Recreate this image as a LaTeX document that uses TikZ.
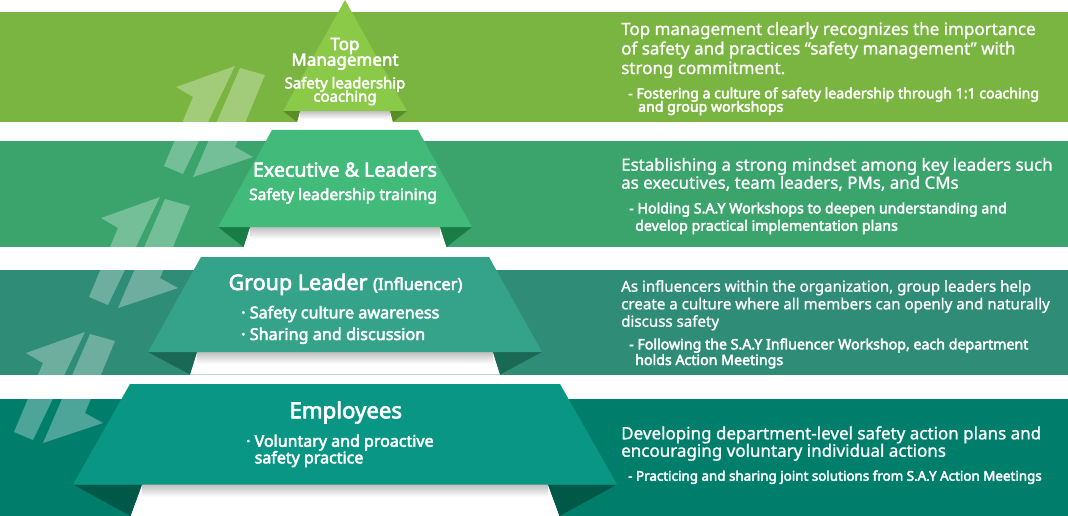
\documentclass[tikz,border=0pt]{standalone}
\usepackage{fontspec}
\setmainfont{Noto Sans}
\newfontfamily\medfont{Noto Sans}[FakeBold=1.2]
\newfontfamily\heavyfont{Noto Sans}[FakeBold=3]
\definecolor{bandA}{HTML}{7AB541}
\definecolor{tierA}{HTML}{8BC948}
\definecolor{foldA}{HTML}{5A8C28}
\definecolor{bandB}{HTML}{3AA46C}
\definecolor{tierB}{HTML}{42BA7A}
\definecolor{foldB}{HTML}{1A7D46}
\definecolor{bandC}{HTML}{2F8C76}
\definecolor{tierC}{HTML}{35A38A}
\definecolor{foldC}{HTML}{196955}
\definecolor{bandD}{HTML}{007E6C}
\definecolor{tierD}{HTML}{0A9685}
\definecolor{foldD}{HTML}{005848}
\begin{document}
\begin{tikzpicture}[
    x=1pt,y=-1pt,
    flow/.style={fill=white,fill opacity=0.3},
    shadow/.style={top color=black!25,bottom color=white},
    head/.style={text=white,inner sep=0pt,anchor=base,font=\heavyfont\fontsize{#1}{#1}\selectfont},
    head/.default=19.6,
    lead/.style={text=white,inner sep=0pt,anchor=base,font=\heavyfont\fontsize{#1}{#1}\selectfont},
    lead/.default=15.6,
    item/.style={lead=#1,anchor=base west},
    item/.default=16.2,
    desc/.style={text=white,inner sep=0pt,anchor=base west,font=\medfont\fontsize{#1}{#1}\selectfont},
    desc/.default=17,
    note/.style={text=white,inner sep=0pt,anchor=base west,font=\heavyfont\fontsize{#1}{#1}\selectfont},
    note/.default=14.1,
  ]
  \useasboundingbox[fill=white] (0,0) rectangle (1068,516);
  \fill[bandA] (0,12) rectangle (1068,122);
  \fill[bandB] (0,141) rectangle (1068,247);
  \fill[bandC] (0,270) rectangle (1068,374.5);
  \fill[bandD] (0,398.5) rectangle (1068,516);
  \fill[flow] (235,66) -- (183,174) -- (164,166) -- (193,97) -- (176,87) -- cycle;
  \fill[flow] (240,68) -- (265,75) -- (235,147) -- (253,157) -- (193,177) -- cycle;
  \fill[flow] (160,197) -- (108,305) -- (89,297) -- (118,228) -- (101,218) -- cycle;
  \fill[flow] (165,199) -- (190,206) -- (160,278) -- (178,288) -- (118,308) -- cycle;
  \fill[flow] (85,332) -- (33,440) -- (14,432) -- (43,363) -- (26,353) -- cycle;
  \fill[flow] (90,334) -- (115,341) -- (85,413) -- (103,423) -- (43,443) -- cycle;
  \fill[white] (300,111) -- (390,111) -- (393,122) -- (297,122) -- cycle;
  \fill[white] (250,227) -- (440,227) -- (446.5,247) -- (243.5,247) -- cycle;
  \fill[white] (197,352) -- (493,352) -- (500,374.5) -- (190,374.5) -- cycle;
  \fill[white] (142,484.5) -- (548,484.5) -- (559.5,516) -- (130.5,516) -- cycle;
  \shade[shadow] (300,111) rectangle (390,119);
  \shade[shadow] (250,227) rectangle (440,239);
  \shade[shadow] (197,352) rectangle (493,364);
  \shade[shadow] (142,484.5) rectangle (548,497);
  \fill[foldA] (283,111) -- (300,111) -- (297,122) -- cycle;
  \fill[foldA] (390,111) -- (407,111) -- (393,122) -- cycle;
  \fill[foldB] (218,227) -- (250,227) -- (243.5,247) -- cycle;
  \fill[foldB] (440,227) -- (472,227) -- (446.5,247) -- cycle;
  \fill[foldC] (148,352) -- (197,352) -- (190,374.5) -- cycle;
  \fill[foldC] (493,352) -- (542,352) -- (500,374.5) -- cycle;
  \fill[foldD] (73,484.5) -- (142,484.5) -- (130.5,516) -- cycle;
  \fill[foldD] (548,484.5) -- (617,484.5) -- (559.5,516) -- cycle;
  \fill[tierA] (345,0) -- (407,111) -- (283,111) -- cycle;
  \fill[tierB] (272,130) -- (418,130) -- (472,227) -- (218,227) -- cycle;
  \fill[tierC] (201,257) -- (489,257) -- (542,352) -- (148,352) -- cycle;
  \fill[tierD] (130,384) -- (560,384) -- (617,484.5) -- (73,484.5) -- cycle;
  \node[head=17] (top1) at (345,50) {Top};
  \node[head=17] (top2) at (345,65.7) {Management};
  \node[lead=14.9] (top3) at (345,88.3) {Safety leadership};
  \node[lead=14.9] (top4) at (345,101.7) {coaching};
  \node[head] (exec1) at (345,176.7) {Executive \& Leaders};
  \node[lead] (exec2) at (343,200) {Safety leadership training};
  \node[head=21.5] (group1) at (345.5,290) {Group Leader {\fontsize{16.5}{16.5}\selectfont(Influencer)}};
  \node[item] (group2) at (241,318.3) {· Safety culture awareness};
  \node[item] (group3) at (241,340) {· Sharing and discussion};
  \node[head=22.2] (staff1) at (345.8,418.3) {Employees};
  \node[item=16] (staff2) at (246,446.7) {· Voluntary and proactive};
  \node[item=16] (staff3) at (254.5,463.3) {safety practice};
  \node[desc] (topd1) at (621,35) {Top management clearly recognizes the importance};
  \node[desc] (topd2) at (621,54.5) {of safety and practices “safety management” with};
  \node[desc] (topd3) at (621,74) {strong commitment.};
  \node[note] (topn1) at (628,98.3) {- Fostering a culture of safety leadership through 1:1 coaching};
  \node[note] (topn2) at (638,111.7) {and group workshops};
  \node[desc=16.9] (execd1) at (621,170.7) {Establishing a strong mindset among key leaders such};
  \node[desc=16.9] (execd2) at (621,188.7) {as executives, team leaders, PMs, and CMs};
  \node[note=14.2] (execn1) at (629,213.3) {- Holding S.A.Y Workshops to deepen understanding and};
  \node[note=14.2] (execn2) at (635,230.7) {develop practical implementation plans};
  \node[desc=15.1] (groupd1) at (621,291.7) {As influencers within the organization, group leaders help};
  \node[desc=15.1] (groupd2) at (621,309.3) {create a culture where all members can openly and naturally};
  \node[desc=15.1] (groupd3) at (621,326.7) {discuss safety};
  \node[note=14.2] (groupn1) at (629,349.3) {- Following the S.A.Y Influencer Workshop, each department};
  \node[note=14.2] (groupn2) at (635,365) {holds Action Meetings};
  \node[desc=17] (staffd1) at (621,439.3) {Developing department-level safety action plans and};
  \node[desc=17] (staffd2) at (621,456.7) {encouraging voluntary individual actions};
  \node[note=13.4] (staffn1) at (628,480.7) {- Practicing and sharing joint solutions from S.A.Y Action Meetings};
\end{tikzpicture}
\end{document}
